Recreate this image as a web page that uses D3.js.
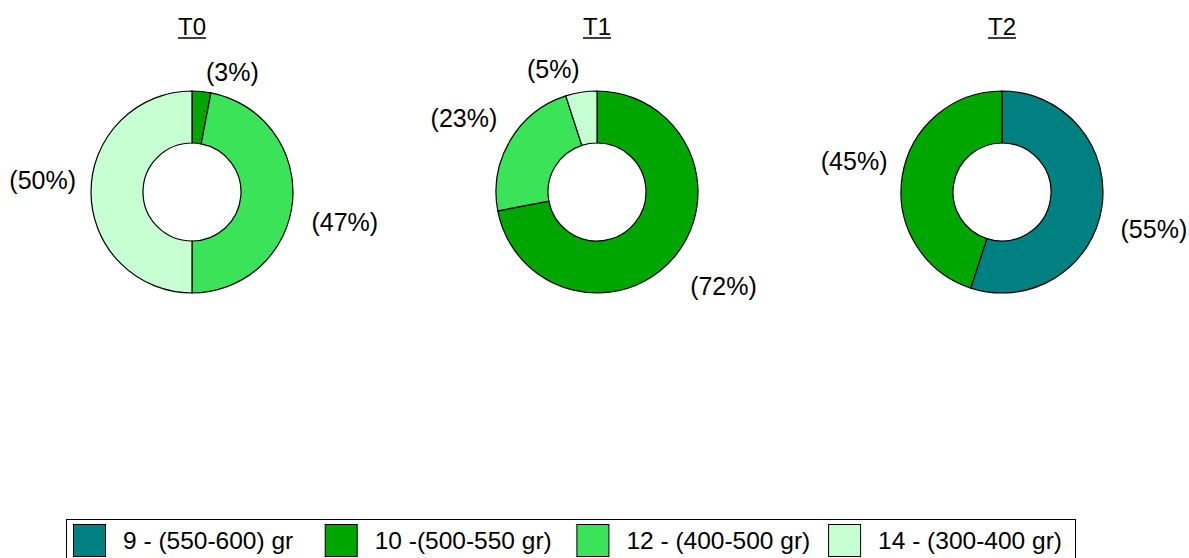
<!DOCTYPE html>
<html>
<head>
<meta charset="utf-8">
<script src="https://cdn.jsdelivr.net/npm/d3@7"></script>
<style>
  html, body { margin: 0; padding: 0; background: #fff; }
  svg { display: block; }
  text { font-family: Arial, "Liberation Sans", sans-serif; fill: #000; }
</style>
</head>
<body>
<svg id="chart" width="1189" height="558"></svg>
<script>
// ---- data ----
const categories = ["9 - (550-600) gr", "10 -(500-550 gr)", "12 - (400-500 gr)", "14 - (300-400 gr)"];
const colors = ["#008080", "#00a600", "#3be358", "#c6ffd2"];
const panels = ["T0", "T1", "T2"];
const valuesT0 = [0, 3, 47, 50];
const valuesT1 = [0, 72, 23, 5];
const valuesT2 = [55, 45, 0, 0];
const panelValues = [valuesT0, valuesT1, valuesT2];

// ---- layout ----
const W = 1189, H = 558;
const svg = d3.select("#chart");
const fontSize = 24;
const labelSize = 25;
const rOuter = 101, rInner = 49, rLabel = 117;
const cy = 192;
const xPanel = d3.scalePoint().domain(panels).range([192, 1002]);
const color = d3.scaleOrdinal().domain(categories).range(colors);

const pie = d3.pie().sort(null).value(d => d.v);
const arc = d3.arc().innerRadius(rInner).outerRadius(rOuter);

panels.forEach((p, pi) => {
  const cx = xPanel(p);
  const g = svg.append("g").attr("transform", `translate(${cx},${cy})`);
  const data = categories.map((c, i) => ({ c, v: panelValues[pi][i] }));
  const arcs = pie(data).filter(d => d.data.v > 0);

  g.selectAll("path.slice").data(arcs).join("path")
    .attr("class", "slice")
    .attr("d", arc)
    .attr("fill", d => color(d.data.c))
    .attr("stroke", "#000")
    .attr("stroke-width", 1.2);

  g.selectAll("text.lbl").data(arcs).join("text")
    .attr("class", "lbl")
    .attr("font-size", labelSize)
    .each(function (d) {
      const a = (d.startAngle + d.endAngle) / 2;
      const s = Math.sin(a), c = Math.cos(a);
      const x = rLabel * s + (s >= 0 ? 3 : 1);
      const y = -rLabel * c + 3 + 15 * s - 8 * c;
      d3.select(this)
        .attr("x", x).attr("y", y)
        .attr("dominant-baseline", "central")
        .attr("text-anchor", s >= 0 ? "start" : "end");
    })
    .text(d => `(${d.data.v}%)`);

  // title with underline
  const t = svg.append("text")
    .attr("x", cx).attr("y", 35)
    .attr("text-anchor", "middle")
    .attr("font-size", fontSize)
    .text(p);
  const bb = t.node().getBBox();
  svg.append("line")
    .attr("x1", bb.x).attr("x2", bb.x + bb.width)
    .attr("y1", 38).attr("y2", 38)
    .attr("stroke", "#000").attr("stroke-width", 1.5);
});

// ---- legend ----
const legend = svg.append("g");
legend.append("rect")
  .attr("x", 66.5).attr("y", 519.5)
  .attr("width", 1009).attr("height", 60)
  .attr("fill", "#fff").attr("stroke", "#000").attr("stroke-width", 1);

const xLeg = d3.scaleBand().domain(categories).range([73, 73 + 4 * 251.7]);
const items = legend.selectAll("g.item").data(categories).join("g")
  .attr("class", "item")
  .attr("transform", d => `translate(${xLeg(d)},524)`);
items.append("rect")
  .attr("x", 0.5).attr("y", 0.5).attr("width", 32).attr("height", 32)
  .attr("fill", d => color(d)).attr("stroke", "#000").attr("stroke-width", 1);
items.append("text")
  .attr("x", 50).attr("y", 16)
  .attr("dominant-baseline", "central")
  .attr("font-size", 24.5)
  .text(d => d);
</script>
</body>
</html>
